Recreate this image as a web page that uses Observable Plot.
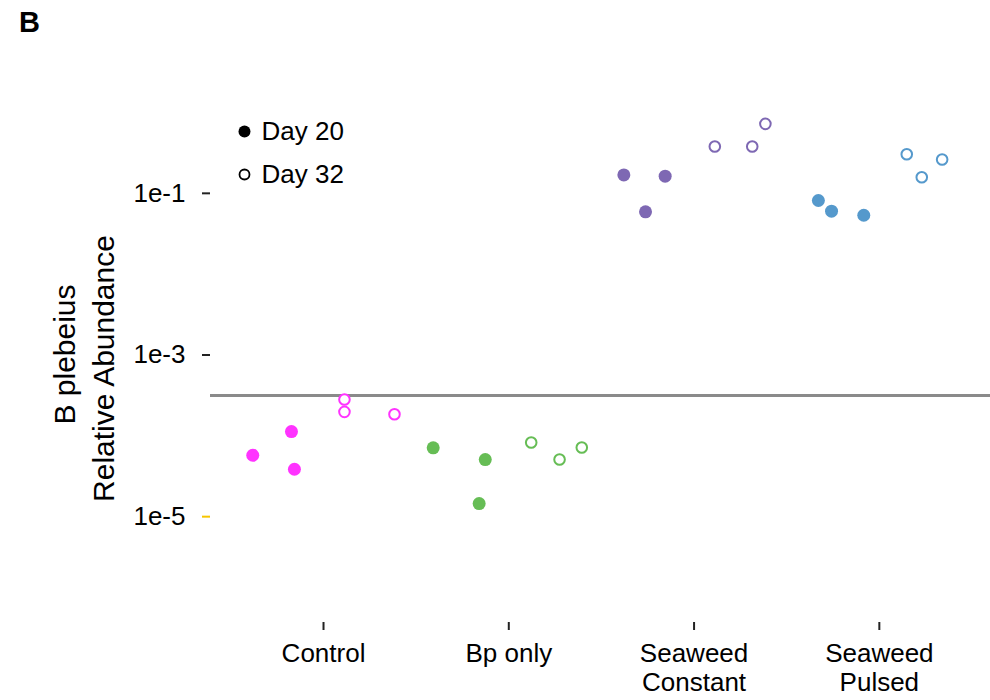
<!DOCTYPE html>
<html>
<head>
<meta charset="utf-8">
<script src="https://cdn.jsdelivr.net/npm/d3@7"></script>
<script src="https://cdn.jsdelivr.net/npm/@observablehq/plot@0.6"></script>
<style>
  html, body { margin: 0; padding: 0; background: white; }
  #wrap { position: relative; width: 990px; height: 700px; font-family: "Liberation Sans", Arial, sans-serif; }
  #panel { position: absolute; left: 19px; top: 6px; font-size: 29px; font-weight: bold; color: black; }
</style>
</head>
<body>
<div id="wrap"><div id="panel">B</div></div>
<script>
// ---- data ----
const groups = ["Control", "Bp only", "Seaweed\nConstant", "Seaweed\nPulsed"];
const groupColors = ["#ff33ff", "#66bd55", "#7e68b3", "#5599cc"];

// Day 20 (filled) relative abundance per group
const day20Abundance = [
  [5.75e-5, 1.13e-4, 3.86e-5],
  [7.10e-5, 5.09e-5, 1.45e-5],
  [0.169, 0.163, 0.059],
  [0.0815, 0.0601, 0.0536]
];
// horizontal jitter (in category units) of Day 20 points
const day20Jitter = [
  [-0.382, -0.173, -0.157],
  [-0.408, -0.127, -0.160],
  [-0.379, -0.156, -0.262],
  [-0.329, -0.258, -0.084]
];
// Day 32 (open) relative abundance per group
const day32Abundance = [
  [2.81e-4, 1.98e-4, 1.85e-4],
  [8.26e-5, 5.09e-5, 7.16e-5],
  [0.379, 0.379, 0.724],
  [0.305, 0.158, 0.262]
];
const day32Jitter = [
  [0.113, 0.113, 0.383],
  [0.121, 0.274, 0.394],
  [0.112, 0.314, 0.385],
  [0.148, 0.229, 0.339]
];
const detectionLimit = 3.15e-4;
const yTicks = [1e-1, 1e-3, 1e-5];
const yTickLabels = ["1e-1", "1e-3", "1e-5"];
const legendLabels = ["Day 20", "Day 32"];
const yLabelLines = ["B plebeius", "Relative Abundance"];

// ---- build table ----
const rows = [];
groups.forEach((g, i) => {
  day20Abundance[i].forEach((v, j) => rows.push({group: g, day: 20, x: i + day20Jitter[i][j], y: v}));
  day32Abundance[i].forEach((v, j) => rows.push({group: g, day: 32, x: i + day32Jitter[i][j], y: v}));
});
const fmtY = d => yTickLabels[yTicks.indexOf(d)];

const chart = Plot.plot({
  width: 990,
  height: 700,
  marginLeft: 210,
  marginRight: 0,
  marginTop: 112,
  marginBottom: 78,
  insetBottom: 25,
  style: {fontFamily: "'Liberation Sans', Arial, sans-serif", fontSize: "26px", background: "white", color: "black", overflow: "visible"},
  x: {type: "linear", domain: [-0.61, 3.6]},
  y: {type: "log", domain: [1e-6, 1]},
  color: {type: "ordinal", domain: groups, range: groupColors},
  marks: [
    Plot.ruleY([detectionLimit], {stroke: "#8a8a8a", strokeWidth: 3}),
    Plot.axisY(yTicks.slice(0, 2), {tickSize: 8, tickPadding: 17, tickFormat: fmtY, strokeWidth: 2, fontSize: 26, label: null, stroke: "#222"}),
    Plot.axisY(yTicks.slice(2), {tickSize: 8, tickPadding: 17, tickFormat: fmtY, strokeWidth: 2, fontSize: 26, label: null, stroke: "#f7c600", fill: "black"}),
    Plot.axisX(d3.range(groups.length), {tickSize: 8, tickPadding: 11, tickFormat: i => groups[i], strokeWidth: 2, fontSize: 26, lineHeight: 1.12, label: null, stroke: "#222"}),
    Plot.dot(rows.filter(d => d.day === 20), {x: "x", y: "y", fill: "group", r: 6.5}),
    Plot.dot(rows.filter(d => d.day === 32), {x: "x", y: "y", stroke: "group", fill: "white", r: 5.3, strokeWidth: 2}),
    // legend
    Plot.dot([legendLabels[0]], {frameAnchor: "top-left", dx: 34, dy: 19, r: 6, fill: "black"}),
    Plot.dot([legendLabels[1]], {frameAnchor: "top-left", dx: 34, dy: 62, r: 5, fill: "white", stroke: "black", strokeWidth: 1.8}),
    Plot.text([legendLabels[0]], {frameAnchor: "top-left", dx: 51, dy: 19, text: d => d, textAnchor: "start", lineAnchor: "middle", fontSize: 26}),
    Plot.text([legendLabels[1]], {frameAnchor: "top-left", dx: 51, dy: 62, text: d => d, textAnchor: "start", lineAnchor: "middle", fontSize: 26}),
    // y label (two lines)
    Plot.text([yLabelLines[0]], {frameAnchor: "left", rotate: -90, dx: -136, dy: -13, text: d => d, textAnchor: "middle", lineAnchor: "bottom", fontSize: 30}),
    Plot.text([yLabelLines[1]], {frameAnchor: "left", rotate: -90, dx: -97, dy: 1, text: d => d, textAnchor: "middle", lineAnchor: "bottom", fontSize: 30})
  ]
});
document.getElementById("wrap").prepend(chart);
chart.style.position = "absolute";
chart.style.left = "0";
chart.style.top = "0";
</script>
</body>
</html>
